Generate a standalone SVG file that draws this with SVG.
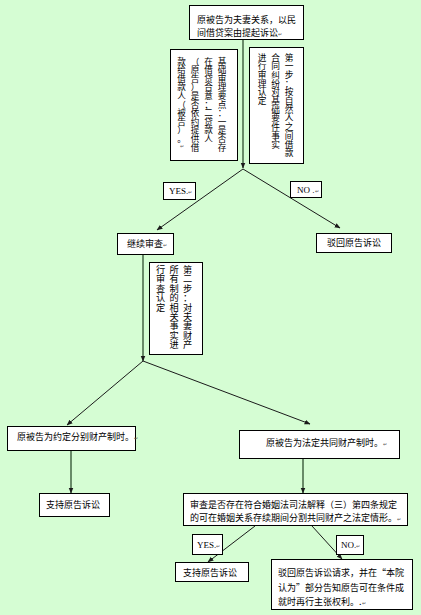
<svg xmlns="http://www.w3.org/2000/svg" width="421" height="615" viewBox="0 0 421 615">
<defs>
<marker id="ah" viewBox="0 0 10 10" refX="9" refY="5" markerWidth="6" markerHeight="6" orient="auto" markerUnits="userSpaceOnUse">
<path d="M0,1 L10,5 L0,9 z" fill="#1a1a1a"/>
</marker>
<style>
.bg{fill:#d5fdd3}
.box{fill:#ffffff;stroke:#000000;stroke-width:1}
.t{font-family:"Noto Sans CJK SC","Liberation Sans",sans-serif;font-size:9px;fill:#000000}
.v{font-family:"Noto Sans CJK SC","Liberation Sans",sans-serif;font-size:8.6px;fill:#000000;text-anchor:middle}
.e{font-family:"Liberation Serif",serif;font-size:9px;fill:#000000}
.pm{font-size:5px;fill:#555}
.vl{stroke:#2e4e2e;stroke-width:1.3;fill:none}
.dl{stroke:#1a1a1a;stroke-width:1;fill:none}
</style>
</defs>
<rect class="bg" x="0" y="0" width="421" height="615"/>

<g id="connectors">
<line class="vl" x1="243" y1="40" x2="243" y2="168" marker-end="url(#ah)"/>
<line class="dl" x1="243" y1="169" x2="157" y2="230" marker-end="url(#ah)"/>
<line class="dl" x1="243" y1="169" x2="340" y2="228" marker-end="url(#ah)"/>
<line class="vl" x1="143" y1="255" x2="143" y2="361" marker-end="url(#ah)"/>
<line class="dl" x1="143" y1="361" x2="67" y2="425" marker-end="url(#ah)"/>
<line class="dl" x1="143" y1="361" x2="310" y2="424" marker-end="url(#ah)"/>
<line class="vl" x1="71" y1="451" x2="71" y2="493" marker-end="url(#ah)"/>
<line class="vl" x1="303" y1="458" x2="303" y2="493" marker-end="url(#ah)"/>
<line class="dl" x1="255" y1="526" x2="208" y2="562" marker-end="url(#ah)"/>
<line class="dl" x1="312" y1="526" x2="342" y2="559" marker-end="url(#ah)"/>
</g>

<g id="n-top">
<rect class="box" x="189.500" y="5.500" width="114" height="34"/>
<text class="t" x="197" y="23">原被告为夫妻关系，以民</text>
<text class="t" x="197" y="36">间借贷案由提起诉讼<tspan class="pm">↵</tspan></text>
</g>

<g id="n-basic">
<rect class="box" x="170.500" y="49.500" width="67" height="111"/>
<text class="v" x="222 222 222 222 222 222 222 222 222 222 222" y="64.5 73.1 81.7 90.3 98.9 107.5 116.1 124.7 133.3 141.9 150.5">基础审理要点：一是否存</text>
<text class="v" x="208.5 208.5 208.5 208.5 208.5 208.5 208.5 208.5 208.5 208.5" y="64.5 73.1 81.7 90.3 98.9 107.5 116.1 124.7 133.3 141.9">在借贷合意；二贷款人</text>
<text class="v" x="195 195 195 195 195 195 195 195 195 195 195" y="64.5 73.1 81.7 90.3 98.9 107.5 116.1 124.7 133.3 141.9 150.5">（原告）是否依约提供借</text>
<text class="v" x="181.5 181.5 181.5 181.5 181.5 181.5 181.5 181.5 181.5 181.5" y="64.5 73.1 81.7 90.3 98.9 107.5 116.1 124.7 133.3 141.9">款给借款人（被告）。</text>
<text class="pm" x="180" y="148" style="font-family:'Liberation Sans',sans-serif">↵</text>
</g>

<g id="n-step1">
<rect class="box" x="249.500" y="47.500" width="54" height="116"/>
<text class="v" style="font-size:8.7px" x="289 289 289 289 289 289 289 289 289 289 289 289" y="60.5 69.2 77.9 86.6 95.3 104 112.7 121.4 130.1 138.8 147.5 156.2">第一步：按自然人之间借款</text>
<text class="v" style="font-size:8.7px" x="275.5 275.5 275.5 275.5 275.5 275.5 275.5 275.5 275.5 275.5 275.5" y="60.5 69.2 77.9 86.6 95.3 104 112.7 121.4 130.1 138.8 147.5">合同纠纷对基础要件事实</text>
<text class="v" style="font-size:8.7px" x="262 262 262 262 262 262" y="60.5 69.2 77.9 86.6 95.3 104">进行审理认定</text>
</g>

<g id="n-yes1">
<rect class="box" x="163.500" y="182.500" width="32" height="17"/>
<text class="e" x="169" y="194">YES.<tspan class="pm">↵</tspan></text>
</g>

<g id="n-no1">
<rect class="box" x="290.500" y="181.500" width="31" height="16"/>
<text class="e" x="297" y="193">NO .<tspan class="pm">↵</tspan></text>
</g>

<g id="n-continue">
<rect class="box" x="117.500" y="233.500" width="56" height="21"/>
<text class="t" x="127" y="247">继续审查<tspan class="pm">↵</tspan></text>
</g>

<g id="n-reject1">
<rect class="box" x="316.500" y="233.500" width="75" height="19"/>
<text class="t" x="327" y="246">驳回原告诉讼</text>
</g>

<g id="n-step2">
<rect class="box" x="149.500" y="262.500" width="53" height="92"/>
<text class="v" style="font-size:9.2px" x="187.5 187.5 187.5 187.5 187.5 187.5 187.5 187.5 187.5" y="273 282.4 291.8 301.2 310.6 320 329.4 338.8 348.2">第二步：对夫妻财产</text>
<text class="v" style="font-size:9.2px" x="174 174 174 174 174 174 174 174 174" y="273 282.4 291.8 301.2 310.6 320 329.4 338.8 348.2">所有制的相关事实进</text>
<text class="v" style="font-size:9.2px" x="160.5 160.5 160.5 160.5 160.5" y="273 282.4 291.8 301.2 310.6">行审查认定</text>
</g>

<g id="n-separate">
<rect class="box" x="7.500" y="426.500" width="128" height="24"/>
<text class="t" x="17" y="440">原被告为约定分别财产制时。<tspan class="pm">↵</tspan></text>
</g>

<g id="n-common">
<rect class="box" x="239.500" y="430.500" width="160" height="28"/>
<text class="t" x="266" y="446">原被告为法定共同财产制时。<tspan class="pm">↵</tspan></text>
</g>

<g id="n-support1">
<rect class="box" x="39.500" y="493.500" width="70" height="23"/>
<text class="t" x="46" y="508">支持原告诉讼</text>
</g>

<g id="n-review">
<rect class="box" x="183.500" y="493.500" width="224" height="32"/>
<text class="t" x="190" y="507.500">审查是否存在符合婚姻法司法解释（三）第四条规定</text>
<text class="t" x="190" y="520.500">的可在婚姻关系存续期间分割共同财产之法定情形。<tspan class="pm">↵</tspan></text>
</g>

<g id="n-yes2">
<rect class="box" x="192.500" y="534.500" width="30" height="20"/>
<text class="e" x="197" y="548">YES.<tspan class="pm">↵</tspan></text>
</g>

<g id="n-no2">
<rect class="box" x="336.500" y="535.500" width="27" height="19"/>
<text class="e" x="341" y="548">NO.<tspan class="pm">↵</tspan></text>
</g>

<g id="n-support2">
<rect class="box" x="175.500" y="562.500" width="73" height="19"/>
<text class="t" x="183" y="576">支持原告诉讼</text>
</g>

<g id="n-reject2">
<rect class="box" x="271.500" y="559.500" width="141" height="50"/>
<text class="t" x="278" y="576">驳回原告诉讼请求，并在“本院</text>
<text class="t" x="278" y="591">认为”部分告知原告可在条件成</text>
<text class="t" x="278" y="605">就时再行主张权利。.<tspan class="pm">↵</tspan></text>
</g>
</svg>
